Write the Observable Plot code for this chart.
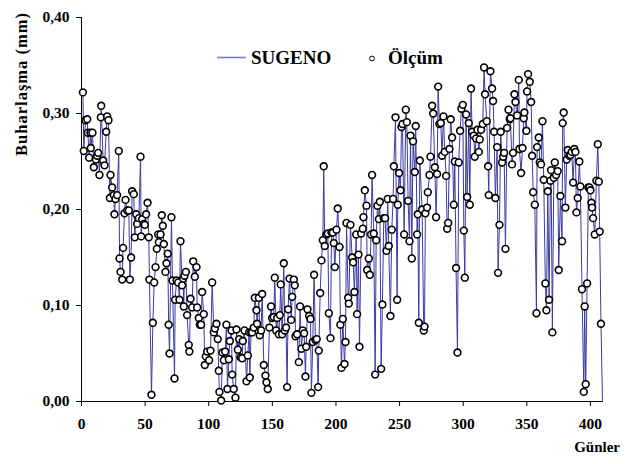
<!DOCTYPE html>
<html><head><meta charset="utf-8">
<script src="https://cdn.jsdelivr.net/npm/d3@7"></script>
<script src="https://cdn.jsdelivr.net/npm/@observablehq/plot@0.6"></script>
<style>
body{margin:0;background:#fff;}
#wrap{position:relative;width:634px;height:464px;}
#overlay{position:absolute;left:0;top:0;pointer-events:none;}
</style></head><body><div id="wrap"></div>
<script>
// [day, evaporation mm]
const period1 = [[1.1,.322],[1.8,.261],[3.1,.293],[4.5,.294],[5.0,.280],[6.0,.254],[7.1,.280],[7.3,.264],[8.6,.280],[9.7,.244],[11.3,.252],[12.3,.256],[13.1,.259],[14.1,.236],[15.2,.296],[15.5,.308],[17.0,.251],[18.1,.246],[19.4,.281],[20.2,.297],[21.2,.293],[22.3,.212],[22.8,.236],[24.1,.223],[25.4,.215],[25.9,.195],[26.7,.211],[28.0,.215],[29.3,.261],[29.9,.149],[30.7,.135],[32.0,.127],[32.7,.160],[33.8,.196],[34.6,.210],[35.9,.199],[37.2,.199],[38.0,.127],[39.0,.150],[39.8,.219],[41.1,.216],[41.9,.171],[43.0,.195],[43.7,.185],[45.1,.191],[46.4,.255],[46.9,.172],[47.7,.190],[49.0,.185],[49.8,.184],[50.8,.195],[51.9,.207],[52.9,.171],[53.4,.127],[55.0,.007],[56.1,.082],[57.1,.124],[58.2,.140],[59.2,.159],[60.3,.174],[60.8,.166],[62.1,.174],[63.1,.194],[63.9,.183],[64.7,.164],[66.0,.135],[66.8,.144]];
const period2 = [[67.8,.154],[68.5,.080],[69.2,.050],[70.7,.192],[71.5,.126],[73.1,.024],[73.6,.106],[74.7,.126],[76.0,.124],[77.0,.106],[77.8,.167],[79.1,.121],[79.9,.128],[80.4,.099],[80.9,.131],[82.0,.135],[83.0,.090],[84.3,.059],[84.8,.052],[85.7,.107],[87.0,.098],[87.8,.146],[89.1,.130],[90.4,.140],[90.9,.098],[92.2,.087],[93.0,.080],[94.0,.080],[94.8,.114],[96.1,.091],[96.9,.038],[97.7,.047],[98.8,.052],[100.3,.043],[101.4,.053],[102.7,.124],[104.0,.072],[104.8,.076],[106.1,.081],[107.1,.065],[107.9,.032],[108.4,.010],[109.8,.001],[110.8,.051],[111.9,.043],[112.9,.052],[113.9,.080],[114.7,.013],[115.8,.044],[116.6,.063],[117.9,.074],[118.4,.028],[119.7,.013],[121.0,.004],[121.8,.075],[122.9,.054],[123.9,.065],[125.0,.046],[126.3,.045],[126.8,.063],[128.1,.074],[129.7,.021],[130.7,.048],[131.8,.072],[132.3,.025]];
const period3 = [[133.3,.072],[134.1,.072],[135.4,.077],[136.2,.108],[137.5,.095],[138.0,.081],[139.4,.108],[140.1,.069],[141.2,.074],[142.0,.112],[143.3,.038],[144.6,.027],[145.4,.020],[146.4,.013],[147.7,.077],[149.0,.099],[149.8,.087],[151.1,.088],[151.9,.129],[153.0,.074],[153.8,.087],[155.1,.070],[155.9,.090],[156.6,.122],[157.7,.070],[159.0,.144],[159.8,.074],[160.8,.077],[161.6,.015],[162.4,.096],[163.5,.128],[164.8,.085],[165.6,.109],[166.9,.127],[167.6,.121],[168.2,.068],[169.5,.070],[170.8,.041],[171.8,.099],[172.9,.055],[173.9,.074],[175.0,.071],[176.0,.026],[176.6,.057],[177.6,.096],[178.9,.089],[180.0,.086],[180.7,.009],[181.8,.062],[182.8,.132],[183.9,.064],[184.9,.065],[186.0,.015],[186.5,.053],[187.6,.113],[188.6,.147],[189.7,.168],[190.4,.245],[191.2,.162],[192.5,.174],[193.6,.175],[194.4,.092],[195.7,.066],[196.5,.176],[197.5,.176],[198.3,.165],[199.1,.140]];
const period4 = [[200.4,.179],[201.4,.201],[202.8,.161],[203.5,.080],[204.3,.035],[205.4,.086],[206.7,.039],[207.5,.062],[208.3,.186],[209.6,.108],[210.1,.102],[211.4,.184],[212.7,.150],[213.5,.145],[214.5,.114],[215.9,.174],[216.6,.091],[217.7,.153],[218.5,.057],[219.8,.175],[221.1,.180],[221.6,.192],[222.7,.220],[224.0,.204],[224.5,.137],[225.8,.149],[226.6,.132],[227.6,.174],[228.4,.236],[229.7,.175],[230.8,.028],[231.6,.168],[232.6,.204],[233.7,.190],[234.5,.208],[235.5,.034],[236.5,.101],[237.6,.191],[238.6,.191],[239.7,.157],[240.7,.211],[241.5,.162],[242.8,.089],[243.9,.179],[244.9,.211],[245.5,.245],[246.8,.296],[248.1,.106],[248.6,.205],[249.6,.238],[250.7,.220],[251.5,.286],[252.3,.289],[253.6,.174],[254.9,.304],[255.7,.291],[256.7,.209],[257.8,.167],[258.6,.277],[259.6,.149],[260.6,.271],[262.0,.239],[262.7,.287],[263.8,.174],[264.3,.195],[265.1,.082],[265.9,.251]];
const period5 = [[267.7,.200],[269.0,.074],[269.6,.078],[270.3,.196],[271.6,.202],[272.2,.218],[273.5,.236],[274.3,.255],[275.6,.308],[276.4,.300],[277.7,.244],[278.7,.192],[279.5,.237],[280.3,.328],[281.3,.289],[282.4,.290],[283.4,.256],[284.5,.297],[285.5,.260],[286.6,.235],[287.4,.180],[288.2,.186],[289.2,.263],[290.2,.294],[291.3,.275],[292.6,.205],[293.4,.250],[294.4,.139],[295.5,.051],[296.5,.249],[297.6,.282],[298.6,.305],[299.7,.309],[300.5,.178],[301.3,.129],[302.3,.299],[303.1,.213],[304.4,.290],[305.2,.205],[306.2,.326],[307.0,.281],[308.3,.277],[309.1,.255],[310.2,.274],[311.2,.283],[312.3,.260],[313.0,.273],[314.1,.283],[315.4,.289],[316.4,.348],[317.2,.320],[318.5,.292],[319.6,.245],[320.1,.215],[321.4,.344],[322.7,.326],[323.5,.313],[324.3,.281],[325.3,.212],[326.7,.265],[327.4,.134],[328.5,.184],[329.5,.281],[330.6,.249],[331.4,.255],[332.2,.259],[333.2,.159]];
const period6 = [[334.5,.285],[335.6,.304],[336.6,.294],[337.1,.295],[338.4,.247],[339.2,.259],[340.3,.320],[341.1,.312],[342.4,.298],[343.7,.335],[344.2,.263],[345.5,.238],[346.6,.264],[347.6,.295],[348.1,.301],[349.7,.282],[350.2,.323],[351.0,.341],[352.3,.333],[353.4,.312],[354.2,.256],[355.0,.218],[356.3,.205],[357.6,.092],[358.1,.265],[359.4,.275],[360.2,.249],[361.2,.247],[362.3,.292],[363.3,.231],[364.6,.123],[365.4,.095],[366.5,.219],[367.5,.106],[368.6,.230],[369.1,.241],[370.1,.072],[371.2,.233],[372.0,.249],[373.0,.236],[374.3,.240],[375.1,.137],[376.4,.214],[377.7,.167],[378.2,.290],[379.0,.301],[380.3,.202],[381.4,.252],[382.2,.262],[383.5,.256],[384.3,.257],[385.3,.260],[386.4,.228],[387.4,.263],[388.2,.260],[389.0,.197],[390.0,.212],[391.3,.250],[392.1,.224],[393.4,.117],[394.8,.010],[395.5,.099],[396.3,.018],[397.4,.123],[398.4,.223],[399.2,.223],[400.0,.220],[400.8,.207],[401.3,.202],[402.1,.191],[403.4,.174],[404.7,.230],[405.8,.268],[406.6,.229],[407.3,.177],[408.3,.081]];
const sugenoEnd = [[409.5, 0]];

const xTicks = [0, 50, 100, 150, 200, 250, 300, 350, 400];
const yTicks = [0, 0.1, 0.2, 0.3, 0.4];
const seriesNames = ["SUGENO", "Ölçüm"];
const xTitle = "Günler";
const yTitle = "Buharlaşma (mm)";

const toRows = a => a.map(([day, value]) => ({day, value}));
const measured = toRows([...period1, ...period2, ...period3, ...period4, ...period5, ...period6]);
const sugeno = measured.concat(toRows(sugenoEnd));

const lineColor = "#3a3aa6";

const chart = Plot.plot({
  width: 634, height: 464,
  marginLeft: 81, marginRight: 32, marginTop: 17, marginBottom: 63,
  style: {fontFamily: "'Liberation Serif', 'Times New Roman', serif", fontSize: "15.5px", fontWeight: "bold", color: "#000", background: "#fff"},
  x: {domain: [0, 409.5], ticks: xTicks, tickSize: 5, tickPadding: 11, tickFormat: d => String(d), label: null},
  y: {domain: [0, 0.4], ticks: yTicks, tickSize: 5, tickPadding: 7, tickFormat: d => d.toFixed(2).replace(".", ","), label: null},
  marks: [
    Plot.ruleX([0], {stroke: "#000", strokeWidth: 1}),
    Plot.ruleY([0], {stroke: "#000", strokeWidth: 1}),
    Plot.line(sugeno, {x: "day", y: "value", stroke: lineColor, strokeWidth: 1}),
    Plot.dot(measured, {x: "day", y: "value", r: 3.4, stroke: "#000", strokeWidth: 1.6, fill: "#fff"})
  ]
});

const wrap = document.getElementById("wrap");
wrap.appendChild(chart);

const ns = "http://www.w3.org/2000/svg";
const ov = document.createElementNS(ns, "svg");
ov.setAttribute("id", "overlay");
ov.setAttribute("width", 634);
ov.setAttribute("height", 464);
ov.style.fontFamily = "'Liberation Serif', 'Times New Roman', serif";
ov.style.fontWeight = "bold";
function add(tag, attrs, text) {
  const el = document.createElementNS(ns, tag);
  for (const k in attrs) el.setAttribute(k, attrs[k]);
  if (text != null) el.textContent = text;
  ov.appendChild(el);
  return el;
}
// legend
add("line", {x1: 217, x2: 246, y1: 57.5, y2: 57.5, stroke: "#7b7bc4", "stroke-width": 1.6});
add("text", {x: 251, y: 64, "font-size": 19}, seriesNames[0]);
add("circle", {cx: 372, cy: 58.5, r: 2.4, fill: "#fff", stroke: "#000", "stroke-width": 1});
add("text", {x: 388, y: 64, "font-size": 19}, seriesNames[1]);
// axis titles
add("text", {x: 620, y: 452, "font-size": 15, "text-anchor": "end"}, xTitle);
add("text", {transform: "translate(27,84) rotate(-90)", "font-size": 16.5, "text-anchor": "middle", "letter-spacing": 1}, yTitle);
wrap.appendChild(ov);
</script></body></html>
